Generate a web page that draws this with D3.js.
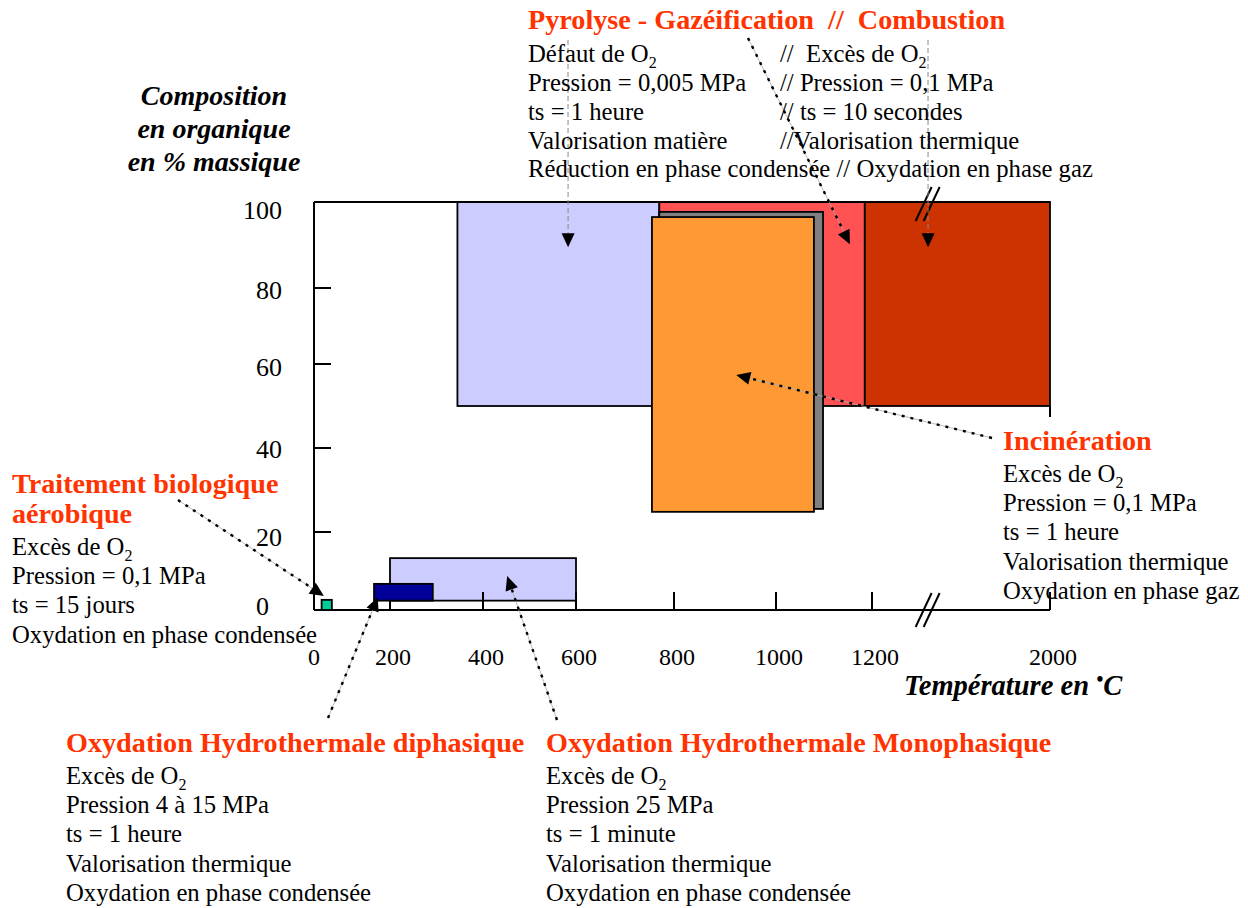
<!DOCTYPE html>
<html><head><meta charset="utf-8">
<script src="https://cdn.jsdelivr.net/npm/d3@7"></script>
<style>
body{margin:0;background:#fff}
svg text{font-family:"Liberation Serif","Times New Roman",serif;white-space:pre}
</style>
</head><body>
<svg id="chart" width="1248" height="908"></svg>
<script>
// ---------- data ----------
const xTickValues = [0, 200, 400, 600, 800, 1000, 1200, 2000];
const xTickLabels = ["0", "200", "400", "600", "800", "1000", "1200", "2000"];
const yTickValues = [0, 20, 40, 60, 80, 100];
const yTickLabels = ["0", "20", "40", "60", "80", "100"];

// process domains (temperature °C, organic composition % mass)
const processes = ["Pyrolyse", "Gazéification", "Combustion", "Incinération (ombre)", "Incinération",
                   "OH monophasique", "OH diphasique", "Biologique"];
const tempMin = [345, 770, 1185, 770, 755, 200, 158, 20];
const tempMax = [770, 1185, 2000, 1098, 1079, 600, 292, 47];
const orgMin  = [50, 50, 50, 25.5, 24.8, 2.4, 2.4, 0];
const orgMax  = [100, 100, 100, 97.7, 96.5, 13.3, 6.7, 2.6];

// arrow targets (data units)
const arrowNames = ["pyro", "comb", "gaz", "inci", "bio", "diph", "mono"];
const arrowTipTemp = [583, 1452, 1154, 922, 26, 168, 452];
const arrowTipOrg  = [89.5, 89.5, 90.2, 57.4, 3.6, 3.3, 8.7];
const axisBreakTemp = 1450;

// ---------- styles / layout ----------
const fillOf = {
  "Pyrolyse": "#CCCCFF", "Gazéification": "#FF5252", "Combustion": "#CC3300",
  "Incinération (ombre)": "#808080", "Incinération": "#FF9933",
  "OH monophasique": "#CCCCFF", "OH diphasique": "#000099", "Biologique": "#00CC99"
};
const arrowTail = {pyro:[568,40], comb:[928,40], gaz:[748,38], inci:[992,438],
                   bio:[178,500], diph:[328,718], mono:[557,720]};
const arrowStyle = {pyro:"gray", comb:"gray", gaz:"dot", inci:"dot", bio:"dot", diph:"dot", mono:"dot"};
const yLabelDy = [-4, 5, 1, 3, 2, 8];
const RED = "#FF3300";
const BODY = 24.7;

const svg = d3.select("#chart");
const x = d3.scaleLinear().domain(xTickValues).range([314, 390, 483, 576, 674, 776, 872, 1050]);
const y = d3.scaleLinear().domain(yTickValues).range([610, 532, 448, 364, 288, 202]);

// ---------- rectangles ----------
function drawRect(i) {
  svg.append("rect")
    .attr("x", x(tempMin[i])).attr("y", y(orgMax[i]))
    .attr("width", x(tempMax[i]) - x(tempMin[i]))
    .attr("height", y(orgMin[i]) - y(orgMax[i]))
    .attr("fill", fillOf[processes[i]])
    .attr("stroke", "#000").attr("stroke-width", 1.8);
}
[0, 1, 2, 3, 4, 5].forEach(drawRect);

// ---------- axes frame ----------
const frame = svg.append("g").attr("stroke", "#000").attr("stroke-width", 2).attr("fill", "none");
frame.append("line").attr("x1", x(0)).attr("x2", x(0)).attr("y1", y(100)).attr("y2", y(0));
frame.append("line").attr("x1", x(0)).attr("x2", x(2000)).attr("y1", y(100)).attr("y2", y(100));
frame.append("line").attr("x1", x(0)).attr("x2", x(2000)).attr("y1", y(0)).attr("y2", y(0));
yTickValues.filter(v => v > 0 && v < 100).forEach(v => {
  frame.append("line").attr("x1", x(0)).attr("x2", x(0) + 17).attr("y1", y(v)).attr("y2", y(v));
});
xTickValues.filter(v => v > 0).forEach(v => {
  frame.append("line").attr("x1", x(v)).attr("x2", x(v)).attr("y1", y(0)).attr("y2", y(0) - 18);
});
frame.append("line").attr("x1", x(2000)).attr("x2", x(2000)).attr("y1", y(50)).attr("y2", y(50) + 11);

[6, 7].forEach(drawRect);

// axis break marks
function breakMark(cy) {
  const cx = x(axisBreakTemp);
  [-4, 4].forEach(o => {
    svg.append("line").attr("x1", cx + o - 8).attr("y1", cy + 17)
      .attr("x2", cx + o + 8).attr("y2", cy - 17)
      .attr("stroke", "#000").attr("stroke-width", 2);
  });
}
breakMark(y(0));
breakMark(y(100) + 2);

// tick labels
svg.append("g").selectAll("text").data(xTickValues).join("text")
  .attr("x", (d, i) => x(d) + (i === 0 ? 0 : 3)).attr("y", 665)
  .attr("text-anchor", "middle").attr("font-size", 24)
  .text((d, i) => xTickLabels[i]);
svg.append("g").selectAll("text").data(yTickValues).join("text")
  .attr("x", d => d === 0 ? 269 : 282).attr("y", (d, i) => y(d) + yLabelDy[i])
  .attr("dominant-baseline", "central")
  .attr("text-anchor", "end").attr("font-size", 26)
  .text((d, i) => yTickLabels[i]);

// axis titles
const yTitle = ["Composition", "en organique", "en % massique"];
yTitle.forEach((t, i) => {
  svg.append("text").attr("x", 214).attr("y", 105 + i * 33).attr("text-anchor", "middle")
    .attr("font-size", 28).attr("font-weight", "bold").attr("font-style", "italic").text(t);
});
const xt = svg.append("text").attr("x", 904).attr("y", 695)
  .attr("font-size", 28.5).attr("font-weight", "bold").attr("font-style", "italic");
xt.append("tspan").text("Température en ");
xt.append("tspan").attr("font-size", 20).attr("dy", -9).text("•");
xt.append("tspan").attr("dy", 9).text("C");

// ---------- arrows ----------
arrowNames.forEach((n, i) => {
  const [x0, y0] = arrowTail[n];
  const x1 = x(arrowTipTemp[i]), y1 = y(arrowTipOrg[i]);
  const dx = x1 - x0, dy = y1 - y0, len = Math.hypot(dx, dy);
  const ux = dx / len, uy = dy / len;
  const L = 14, w = 6.5;
  const bx = x1 - ux * L, by = y1 - uy * L;
  if (arrowStyle[n] === "gray") {
    svg.append("line").attr("x1", x0).attr("y1", y0).attr("x2", bx).attr("y2", by)
      .attr("stroke", "#888").attr("stroke-width", 1).attr("stroke-dasharray", "5,3");
  } else {
    svg.append("line").attr("x1", x0).attr("y1", y0).attr("x2", bx).attr("y2", by)
      .attr("stroke", "#aaa").attr("stroke-width", 0.8);
    svg.append("line").attr("x1", x0).attr("y1", y0).attr("x2", bx).attr("y2", by)
      .attr("stroke", "#000").attr("stroke-width", 2.4).attr("stroke-dasharray", "3,6");
  }
  svg.append("path")
    .attr("d", `M${x1},${y1}L${bx - uy * w},${by + ux * w}L${bx + uy * w},${by - ux * w}Z`)
    .attr("fill", "#000");
});

// ---------- annotation text ----------
function addLine(xp, yp, str, opts = {}) {
  const t = svg.append("text").attr("x", xp).attr("y", yp)
    .attr("font-size", opts.size || BODY)
    .attr("fill", opts.color || "#000")
    .attr("font-weight", opts.bold ? "bold" : null);
  const parts = str.split("_2");
  parts.forEach((p, k) => {
    if (k > 0) {
      t.append("tspan").attr("font-size", 16).attr("dy", 6).text("2");
      if (p.length) t.append("tspan").attr("dy", -6).text(p);
    } else {
      t.append("tspan").text(p);
    }
  });
}
function block(xp, y0, titles, lines) {
  let yy = y0;
  titles.forEach(t => { addLine(xp, yy, t, {bold: true, size: 28.2, color: RED}); yy += 30; });
  yy += 1.5;
  lines.forEach(l => { addLine(xp, yy, l); yy += 29.4; });
}

addLine(528, 29, "Pyrolyse - Gazéification  //  Combustion", {bold: true, size: 28.2, color: RED});
const pyroLines = ["Défaut de O_2", "Pression = 0,005 MPa", "ts = 1 heure", "Valorisation matière"];
const combLines = ["//  Excès de O_2", "// Pression = 0,1 MPa", "// ts = 10 secondes", "//Valorisation thermique"];
pyroLines.forEach((l, i) => addLine(528, 61.5 + i * 29, l));
combLines.forEach((l, i) => addLine(780, 61.5 + i * 29, l));
addLine(528, 177, "Réduction en phase condensée // Oxydation en phase gaz");

block(1003, 450, ["Incinération"],
  ["Excès de O_2", "Pression = 0,1 MPa", "ts = 1 heure", "Valorisation thermique", "Oxydation en phase gaz"]);
block(12, 493, ["Traitement biologique", "aérobique"],
  ["Excès de O_2", "Pression = 0,1 MPa", "ts = 15 jours", "Oxydation en phase condensée"]);
block(66, 752, ["Oxydation Hydrothermale diphasique"],
  ["Excès de O_2", "Pression 4 à 15 MPa", "ts = 1 heure", "Valorisation thermique", "Oxydation en phase condensée"]);
block(546, 752, ["Oxydation Hydrothermale Monophasique"],
  ["Excès de O_2", "Pression 25 MPa", "ts = 1 minute", "Valorisation thermique", "Oxydation en phase condensée"]);
</script>
</body></html>
